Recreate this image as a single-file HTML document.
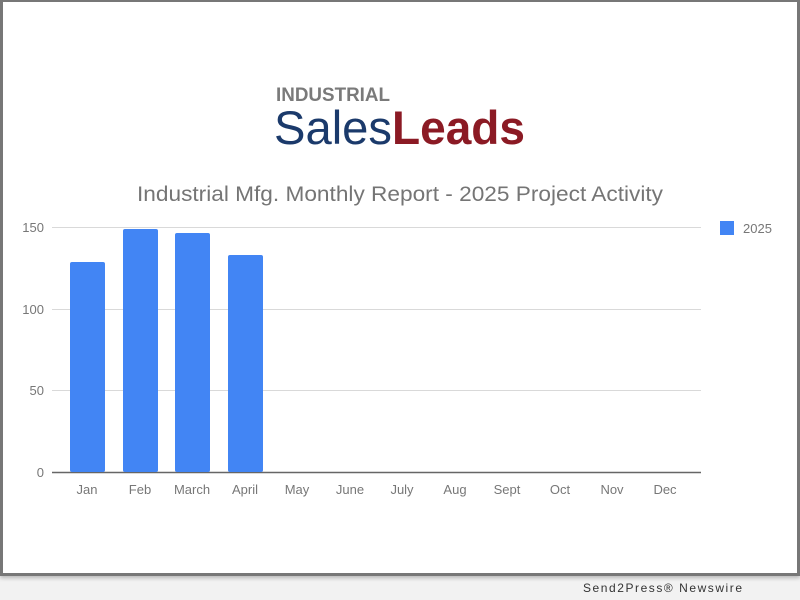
<!DOCTYPE html>
<html><head><style>
body{margin:0;width:800px;height:600px;background:#f2f2f2;overflow:hidden;font-family:"Liberation Sans",sans-serif}
#panel{position:absolute;left:0;top:0;width:794px;height:571px;background:#fff;border:3px solid #777;border-top-width:2px;box-shadow:0 2px 4px rgba(0,0,0,.25)}
</style></head><body>
<div id="panel"></div>
<svg width="800" height="600" style="position:absolute;left:0;top:0">
<text x="276" y="101" font-size="19" font-weight="bold" fill="#7a7a7a" textLength="114" lengthAdjust="spacingAndGlyphs">INDUSTRIAL</text>
<text x="274" y="144" font-size="47" fill="#1b3a6b" textLength="118" lengthAdjust="spacingAndGlyphs">Sales</text>
<text x="392" y="144" font-size="47" font-weight="bold" fill="#8b1a24" textLength="133" lengthAdjust="spacingAndGlyphs">Leads</text>
<text x="137" y="201" font-size="21" fill="#757575" textLength="526" lengthAdjust="spacingAndGlyphs">Industrial Mfg. Monthly Report - 2025 Project Activity</text>
<g stroke="#d9d9d9" stroke-width="1">
<line x1="52" y1="227.5" x2="701" y2="227.5"/>
<line x1="52" y1="309.5" x2="701" y2="309.5"/>
<line x1="52" y1="390.5" x2="701" y2="390.5"/>
</g>
<line x1="52" y1="472.5" x2="701" y2="472.5" stroke="#666" stroke-width="1.5"/>
<g font-size="13" fill="#777" text-anchor="end">
<text x="44" y="232">150</text><text x="44" y="314">100</text><text x="44" y="395">50</text><text x="44" y="477">0</text>
</g>
<g fill="#4285f4">
<rect x="70" y="262" width="35" height="210" rx="2"/>
<rect x="123" y="229" width="35" height="243" rx="2"/>
<rect x="175" y="233" width="35" height="239" rx="2"/>
<rect x="228" y="255" width="35" height="217" rx="2"/>
<rect x="720" y="221" width="14" height="14"/>
</g>
<text x="743" y="233" font-size="13" fill="#777">2025</text>
<g font-size="13" fill="#777" text-anchor="middle">
<text x="87" y="494">Jan</text><text x="140" y="494">Feb</text><text x="192" y="494">March</text><text x="245" y="494">April</text>
<text x="297" y="494">May</text><text x="350" y="494">June</text><text x="402" y="494">July</text><text x="455" y="494">Aug</text>
<text x="507" y="494">Sept</text><text x="560" y="494">Oct</text><text x="612" y="494">Nov</text><text x="665" y="494">Dec</text>
</g>
<text x="583" y="592" font-size="12" fill="#333" textLength="159" lengthAdjust="spacing">Send2Press® Newswire</text>
</svg>
</body></html>
